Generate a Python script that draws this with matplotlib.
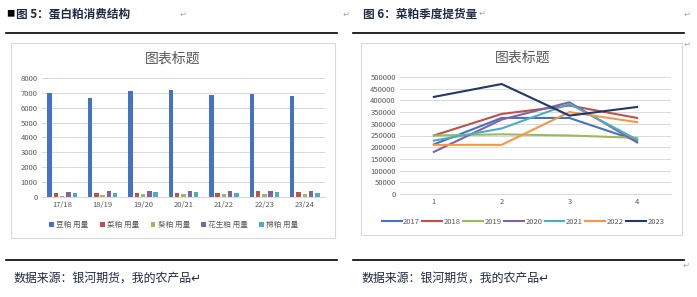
import matplotlib.pyplot as plt
import numpy as np
from matplotlib.patches import Rectangle
from matplotlib.lines import Line2D

plt.rcParams['font.family'] = ['Noto Sans CJK SC', 'DejaVu Sans']

# left chart: protein meal consumption
seasons = ["17/18", "18/19", "19/20", "20/21", "21/22", "22/23", "23/24"]
bar_names = ["豆粕 用量", "菜粕 用量", "葵粕 用量", "花生粕 用量", "棉粕 用量"]
soy = [7000, 6650, 7130, 7220, 6870, 6900, 6820]
rape = [280, 250, 280, 250, 250, 380, 350]
sunflower = [80, 120, 170, 180, 170, 210, 230]
peanut = [350, 380, 420, 420, 420, 430, 380]
cotton = [300, 300, 310, 320, 300, 320, 300]
bar_colors = ["#4472C4", "#C0504D", "#9BBB59", "#8064A2", "#4BACC6"]

# right chart: quarterly rapeseed meal pickup
quarters = [1, 2, 3, 4]
years = ["2017", "2018", "2019", "2020", "2021", "2022", "2023"]
y2017 = [212000, 325000, 325000, 228000]
y2018 = [250000, 342000, 378000, 325000]
y2019 = [250000, 255000, 250000, 240000]
y2020 = [180000, 318000, 392000, 220000]
y2021 = [228000, 280000, 385000, 232000]
y2022 = [210000, 210000, 350000, 307000]
y2023 = [415000, 470000, 335000, 372000]
line_colors = ["#4472C4", "#C0504D", "#9BBB59", "#8064A2", "#4BACC6", "#F79646", "#1F3A68"]

W, H = 697, 297
fig = plt.figure(figsize=(W / 100, H / 100), dpi=100)


def box(x0, y0, x1, y1):
    return [x0 / W, 1 - y1 / H, (x1 - x0) / W, (y1 - y0) / H]


def hline(x0, x1, y, lw=1.2, color="black"):
    fig.add_artist(Line2D([x0 / W, x1 / W], [1 - y / H, 1 - y / H], color=color, lw=lw))


def text(x, y, s, **kw):
    fig.text(x / W, 1 - y / H, s, **kw)


gray = "#595959"
mark = "#A6A6A6"

# document furniture
text(6, 14, "■", fontsize=6, va="center", color="black")
text(16, 14, "图 5：蛋白粕消费结构", fontsize=8.4, fontweight="bold", va="center", color="#1F2A44")
text(363, 14, "图 6：菜粕季度提货量", fontsize=8.4, fontweight="bold", va="center", color="#1F2A44")
text(180, 14, "↵", fontsize=6, va="center", color=mark)
text(479, 13, "↵", fontsize=6, va="center", color=mark)
text(343, 14, "↵", fontsize=6, va="center", color=mark)
text(684, 14, "↵", fontsize=6, va="center", color=mark)
text(684, 44, "↵", fontsize=6, va="center", color=mark)
hline(6, 337, 33)
hline(353, 684, 33)
hline(6, 337, 260)
hline(353, 684, 260)
text(14, 278, "数据来源：银河期货，我的农产品↵", fontsize=8.6, va="center", color="#1F2A44")
text(362, 278, "数据来源：银河期货，我的农产品↵", fontsize=8.6, va="center", color="#1F2A44")
text(683, 265, "↵", fontsize=6, va="center", color=mark)

for x0, y0, x1, y1 in [(11, 43, 335, 238), (361, 43, 682, 235)]:
    fig.add_artist(Rectangle((x0 / W, 1 - y1 / H), (x1 - x0) / W, (y1 - y0) / H,
                             fill=False, edgecolor="#D9D9D9", lw=0.8, transform=fig.transFigure))

text(173, 59, "图表标题", fontsize=10, ha="center", va="center", color=gray)
text(523, 58, "图表标题", fontsize=10, ha="center", va="center", color=gray)


def style(ax):
    for s in ["top", "right", "left"]:
        ax.spines[s].set_visible(False)
    ax.spines["bottom"].set_color("#D9D9D9")
    ax.grid(axis="y", color="#D9D9D9", lw=0.7)
    ax.set_axisbelow(True)
    ax.tick_params(length=0, labelsize=5.5, colors=gray, pad=3)


# left bars
ax1 = fig.add_axes(box(42, 78, 325, 197))
x = np.arange(len(seasons))
series = [soy, rape, sunflower, peanut, cotton]
for i, (vals, c, n) in enumerate(zip(series, bar_colors, bar_names)):
    ax1.bar(x + (i - 2) * 0.155, vals, width=0.11, color=c, label=n)
ax1.set_xlim(-0.5, len(seasons) - 0.5)
ax1.set_ylim(0, 8000)
ax1.set_yticks(range(0, 8001, 1000))
ax1.set_xticks(x, seasons)
ax1.tick_params(axis="x", pad=7)
style(ax1)
ax1.legend(loc="center", bbox_to_anchor=(174 / W, 1 - 225 / H), bbox_transform=fig.transFigure,
           ncol=5, frameon=False, fontsize=5.5, labelcolor=gray, handlelength=0.6, handleheight=0.6,
           handletextpad=0.3, columnspacing=1.5)

# right lines
ax2 = fig.add_axes(box(400, 77, 671, 194))
for vals, c, n in zip([y2017, y2018, y2019, y2020, y2021, y2022, y2023], line_colors, years):
    ax2.plot(quarters, vals, color=c, lw=1.5, label=n)
ax2.set_xlim(0.5, 4.5)
ax2.set_ylim(0, 500000)
ax2.set_yticks(range(0, 500001, 50000))
ax2.set_xticks(quarters)
ax2.tick_params(axis="x", pad=7)
style(ax2)
ax2.legend(loc="center", bbox_to_anchor=(523 / W, 1 - 222 / H), bbox_transform=fig.transFigure,
           ncol=7, frameon=False, fontsize=5.5, labelcolor=gray, handlelength=2.6,
           handletextpad=0.2, columnspacing=0.3)

fig.savefig("out.png", dpi=100)
